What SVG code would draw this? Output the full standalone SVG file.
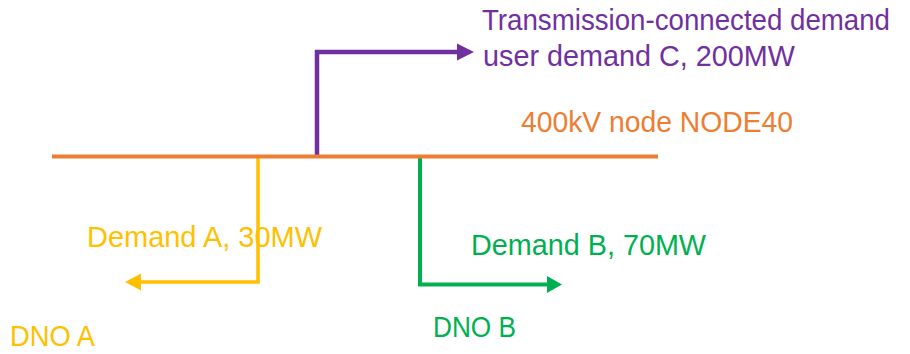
<svg xmlns="http://www.w3.org/2000/svg" width="910" height="354" viewBox="0 0 910 354">
<style>
text{font-family:"Liberation Sans",Arial,sans-serif;font-size:29px}
.pu{fill:#7030A0}.or{fill:#ED7D31}.ye{fill:#FFC000}.gr{fill:#00B050}
.conn{fill:none;stroke-linejoin:miter}
</style>
<defs>
<marker id="ahP" markerUnits="userSpaceOnUse" markerWidth="18" markerHeight="18" refX="0" refY="9" orient="auto" viewBox="0 0 18 18"><path d="M0,0.5 L17,9 L0,17.5 Z" fill="#7030A0"/></marker>
<marker id="ahY" markerUnits="userSpaceOnUse" markerWidth="18" markerHeight="18" refX="0" refY="9" orient="auto" viewBox="0 0 18 18"><path d="M0,0.5 L16,9 L0,17.5 Z" fill="#FFC000"/></marker>
<marker id="ahG" markerUnits="userSpaceOnUse" markerWidth="18" markerHeight="18" refX="0" refY="9" orient="auto" viewBox="0 0 18 18"><path d="M0,0.5 L15,9 L0,17.5 Z" fill="#00B050"/></marker>
</defs>
<g id="connectors" class="conn">
<path d="M317,156 V52 H457" stroke="#7030A0" stroke-width="4.5" marker-end="url(#ahP)"/>
<path d="M258,158 V282 H141" stroke="#FFC000" stroke-width="3.5" marker-end="url(#ahY)"/>
<path d="M420,158 V284.5 H547" stroke="#00B050" stroke-width="4" marker-end="url(#ahG)"/>
</g>
<g id="node-bus">
<line x1="52" y1="156.5" x2="658" y2="156.5" stroke="#ED7D31" stroke-width="4"/>
<text class="or" x="521" y="132" textLength="272" lengthAdjust="spacingAndGlyphs">400kV node NODE40</text>
</g>
<g id="node-demand-c">
<text class="pu" x="482" y="30" textLength="408" lengthAdjust="spacingAndGlyphs">Transmission-connected demand</text>
<text class="pu" x="483" y="66" textLength="312" lengthAdjust="spacingAndGlyphs">user demand C, 200MW</text>
</g>
<g id="node-demand-a">
<text class="ye" x="87" y="247" textLength="235" lengthAdjust="spacingAndGlyphs">Demand A, 30MW</text>
</g>
<g id="node-dno-a">
<text class="ye" x="10" y="346" textLength="85" lengthAdjust="spacingAndGlyphs">DNO A</text>
</g>
<g id="node-demand-b">
<text class="gr" x="471" y="255" textLength="235" lengthAdjust="spacingAndGlyphs">Demand B, 70MW</text>
</g>
<g id="node-dno-b">
<text class="gr" x="433" y="337" textLength="83" lengthAdjust="spacingAndGlyphs">DNO B</text>
</g>
</svg>
